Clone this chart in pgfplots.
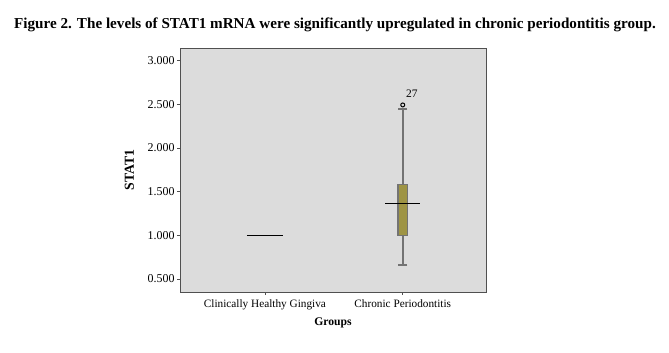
\documentclass[border=0pt]{standalone}
\usepackage{fontspec}
\setmainfont{Liberation Serif}
\usepackage{pgfplots}
\pgfplotsset{compat=1.18}
\usepgfplotslibrary{statistics}
\definecolor{bgray}{RGB}{220,220,220}
\definecolor{olive}{RGB}{158,148,68}
\definecolor{wgray}{RGB}{115,115,115}
\definecolor{agray}{RGB}{80,80,80}
\begin{document}
\begin{tikzpicture}
\useasboundingbox (0,0) rectangle (669bp,353bp);
\node[font=\fontsize{15.2}{17}\selectfont\bfseries] at (335bp,328bp) {Figure 2. The levels of STAT1 mRNA were significantly upregulated in chronic periodontitis group.};
\begin{axis}[
  at={(180bp,61bp)}, anchor=south west,
  width=306bp, height=244bp, scale only axis,
  xmin=-0.616, xmax=1.604,
  ymin=0.351, ymax=3.145,
  axis background/.style={fill=bgray},
  axis line style={agray, line width=0.8pt},
  xtick={0,1},
  xticklabels={Clinically Healthy Gingiva, Chronic Periodontitis},
  ytick={0.5,1,1.5,2,2.5,3},
  yticklabel style={font=\fontsize{12}{14}\selectfont, xshift=1bp, /pgf/number format/.cd, fixed, fixed zerofill, precision=3},
  /pgf/number format/assume math mode=true,
  tick align=outside, tick pos=left,
  major tick length=3bp,
  tick style={agray, line width=0.8pt},
  xticklabel style={font=\fontsize{11.3}{13}\selectfont, yshift=-1bp},
  xlabel={Groups},
  xlabel style={font=\fontsize{11.7}{13}\selectfont\bfseries, at={(axis description cs:0.5,-0.127)}, anchor=center},
  ylabel={STAT1},
  ylabel style={font=\fontsize{13.8}{15}\selectfont\bfseries, at={(axis description cs:-0.165,0.5)}, anchor=center, rotate=0},
  clip=false,
]
\addplot[draw=wgray, line width=2pt, fill=olive,
  boxplot prepared={draw position=1, lower whisker=0.655, lower quartile=0.998,
    median=1.364, upper quartile=1.581, upper whisker=2.444,
    box extend=0.068, whisker extend=0.068, draw direction=y,
    every box/.style={draw=wgray, line width=1.5pt, fill=olive},
    every whisker/.style={draw=wgray, line width=2pt},
    every median/.style={draw=black, line width=1.2pt}},
] coordinates {};
\addplot[black, line width=1.3pt] coordinates {(0.873,1.364) (1.127,1.364)};
\addplot[black, line width=1.5pt] coordinates {(-0.13,1.0) (0.13,1.0)};
\addplot[only marks, mark=o, mark size=2pt, black, line width=1pt,
  point meta=explicit symbolic,
  nodes near coords,
  nodes near coords style={font=\fontsize{11.5}{13}\selectfont, anchor=center, xshift=9bp, yshift=11bp}
] coordinates {(1,2.493) [27]};
\end{axis}
\end{tikzpicture}
\end{document}
